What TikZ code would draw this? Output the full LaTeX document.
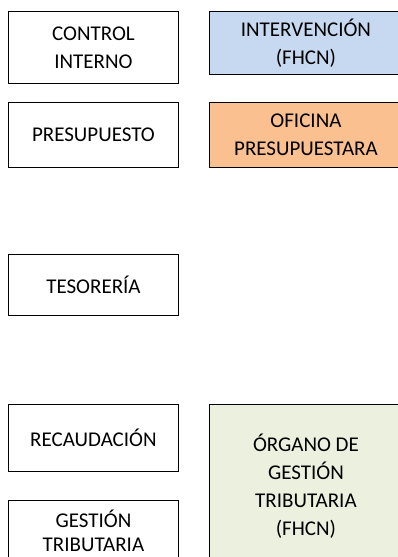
\documentclass[tikz,border=0pt]{standalone}
\usepackage{fontspec}
\setmainfont{Carlito}
\usepackage{tikz}
\definecolor{azulfhcn}{HTML}{C6D9F1}
\definecolor{naranjaof}{HTML}{FAC090}
\definecolor{verdeorg}{HTML}{EBF1DE}
\tikzset{caja/.style={draw, line width=0.9pt, anchor=north west, inner sep=0pt, align=center,
    font=\fontsize{21}{28}\selectfont},
  izq/.style={caja, minimum width=170pt},
  der/.style={caja, minimum width=193pt}}

\begin{document}
\begin{tikzpicture}[x=1pt,y=-1pt]
\useasboundingbox (0,0) rectangle (398,557);
\clip (0,0) rectangle (398,557);
\node[izq, minimum height=72pt] (control) at (8,11) {CONTROL\\ INTERNO};
\node[der, minimum height=63pt, fill=azulfhcn] (interv) at (209,11) {INTERVENCIÓN\\(FHCN)};
\node[izq, minimum height=65pt] (presup) at (8,102) {PRESUPUESTO};
\node[der, minimum height=65pt, fill=naranjaof] (oficina) at (209,102) {OFICINA\\PRESUPUESTARA};
\node[izq, minimum height=61pt] (tesoreria) at (8,254) {TESORERÍA};
\node[izq, minimum height=67pt] (recaud) at (8,404) {RECAUDACIÓN};
\node[der, minimum height=164pt, fill=verdeorg] (organo) at (209,404) {ÓRGANO DE\\GESTIÓN\\TRIBUTARIA\\(FHCN)};
\node[izq, minimum height=60pt, font=\fontsize{21}{24}\selectfont] (gestion) at (8,500) {GESTIÓN\\TRIBUTARIA};
\end{tikzpicture}
\end{document}
